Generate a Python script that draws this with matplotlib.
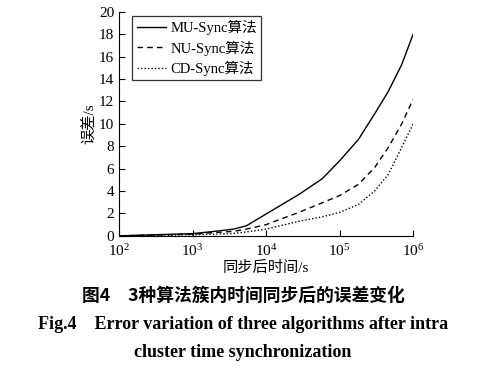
import numpy as np
import matplotlib.pyplot as plt

plt.rcParams['font.family'] = ['Liberation Serif', 'Noto Sans CJK SC']
plt.rcParams['mathtext.fontset'] = 'stix'

# --- data ---
t = [1e2, 1e3, 2e3, 3.6e3, 5.4e3, 1e4, 2.8e4, 5.8e4, 1e5, 1.8e5, 3e5, 4.6e5, 7e5, 1e6]
mu_sync = [0.0, 0.2, 0.4, 0.6, 0.9, 1.95, 3.7, 5.1, 6.7, 8.6, 10.9, 12.9, 15.3, 18.0]
nu_sync = [0.0, 0.15, 0.3, 0.4, 0.6, 1.0, 2.1, 2.95, 3.6, 4.6, 6.1, 7.9, 10.0, 12.2]
cd_sync = [0.0, 0.1, 0.15, 0.21, 0.35, 0.6, 1.3, 1.7, 2.1, 2.8, 4.0, 5.5, 7.9, 10.0]
labels = ['MU-Sync算法', 'NU-Sync算法', 'CD-Sync算法']

fig = plt.figure(figsize=(4.86, 3.72), dpi=100)
ax = fig.add_axes([0.245, 0.366, 0.605, 0.602])

ax.plot(t, mu_sync, color='black', linestyle='-', linewidth=1.0, label=labels[0])
ax.plot(t, nu_sync, color='black', linestyle=(0, (4, 3)), linewidth=1.0, label=labels[1])
ax.plot(t, cd_sync, color='black', linestyle=(0, (1, 1.5)), linewidth=1.0, label=labels[2])

ax.set_xscale('log')
ax.set_xlim(1e2, 1e6)
ax.set_ylim(0, 20)
ax.set_yticks(range(0, 21, 2))
ax.set_xticks([1e2, 1e3, 1e4, 1e5, 1e6])
ax.minorticks_off()
ax.tick_params(direction='in', labelsize=11, length=4, width=0.8)
ax.tick_params(axis='x', pad=5)
ax.spines['top'].set_visible(False)
ax.spines['right'].set_visible(False)

ax.set_xlabel('同步后时间/s', fontsize=11, labelpad=1)
ax.set_ylabel('误差/s', fontsize=11, labelpad=2)

leg = ax.legend(loc='upper left', bbox_to_anchor=(0.02, 1.015), fontsize=10.5,
                frameon=True, fancybox=False, handlelength=2.0,
                handletextpad=0.3, borderpad=0.3, labelspacing=0.35)
leg.get_frame().set_edgecolor('black')
leg.get_frame().set_linewidth(0.9)

# captions below the plot
fig.text(0.5, 0.205, '图4　3种算法簇内时间同步后的误差变化', ha='center', va='center',
         fontsize=12.8, fontweight='bold', family=['Noto Sans CJK SC'])
fig.text(0.5, 0.127, 'Fig.4    Error variation of three algorithms after intra',
         ha='center', va='center', fontsize=13, fontweight='bold')
fig.text(0.5, 0.053, 'cluster time synchronization',
         ha='center', va='center', fontsize=13, fontweight='bold')

fig.savefig('out.png', dpi=100)
